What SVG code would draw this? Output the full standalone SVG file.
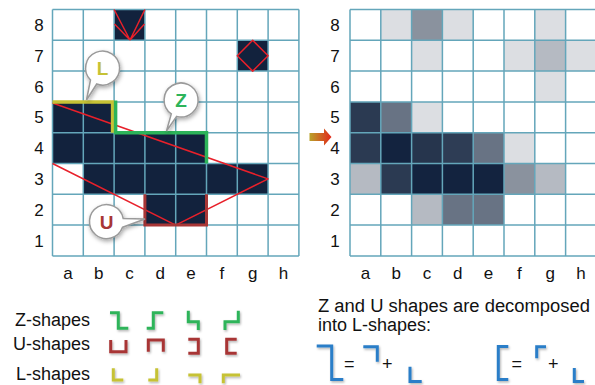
<svg xmlns="http://www.w3.org/2000/svg" width="595" height="385" viewBox="0 0 595 385">
<defs>
<filter id="sh" x="-30%" y="-30%" width="160%" height="160%"><feDropShadow dx="1" dy="1.5" stdDeviation="1.2" flood-color="#000" flood-opacity="0.3"/></filter>
<filter id="bsh" x="-40%" y="-40%" width="180%" height="180%"><feDropShadow dx="1" dy="2" stdDeviation="2" flood-color="#000" flood-opacity="0.35"/></filter>
<linearGradient id="arr" x1="0" y1="0" x2="1" y2="0"><stop offset="0" stop-color="#b9a22a"/><stop offset="1" stop-color="#e2281a"/></linearGradient>
<style>
.lbl{font-family:"Liberation Sans",Arial,sans-serif;font-size:17px;fill:#111;text-anchor:middle}
.txt{font-family:"Liberation Sans",Arial,sans-serif;font-size:18px;fill:#111}
.grid{fill:none;stroke:#64a6ba;stroke-width:1.5}
.dk{fill:#12223d}
.red{fill:none;stroke:#e8202a;stroke-width:1.5;stroke-linejoin:round}
.ic{fill:none;stroke-width:3;stroke-linejoin:miter;filter:url(#sh)}
.g{stroke:#2db45a}.u{stroke:#a83636}.y{stroke:#c6c235}.b{stroke:#2a7ec8}
.bub{fill:#fff;stroke:#9a9a9a;stroke-width:1.5;filter:url(#bsh)}
.bl{font-family:"Liberation Sans",Arial,sans-serif;font-size:19px;font-weight:bold;text-anchor:middle}
.op{font-family:"Liberation Sans",Arial,sans-serif;font-size:18px;fill:#111;text-anchor:middle}
</style>
</defs>
<rect width="595" height="385" fill="#fff"/>

<g id="left-grid">
<rect class="dk" x="114.1" y="9.5" width="30.8" height="30.8"/>
<rect class="dk" x="237.3" y="40.3" width="30.8" height="30.8"/>
<rect class="dk" x="52.5" y="101.9" width="61.6" height="30.8"/>
<rect class="dk" x="52.5" y="132.7" width="154" height="30.8"/>
<rect class="dk" x="83.3" y="163.5" width="184.8" height="30.8"/>
<rect class="dk" x="144.9" y="194.3" width="61.6" height="30.8"/>
<path class="grid" d="M52.5 9.5V255.9M83.3 9.5V255.9M114.1 9.5V255.9M144.9 9.5V255.9M175.7 9.5V255.9M206.5 9.5V255.9M237.3 9.5V255.9M268.1 9.5V255.9M298.9 9.5V255.9M52.5 9.5H298.9M52.5 40.3H298.9M52.5 71.1H298.9M52.5 101.9H298.9M52.5 132.7H298.9M52.5 163.5H298.9M52.5 194.3H298.9M52.5 225.1H298.9M52.5 255.9H298.9"/>
<g class="red">
<path d="M130 40L114.1 9.5M130 40L114.5 24M130 40L144.9 9.5M130 40L144.5 24"/>
<path d="M252.7 40.3L268.1 55.7L252.7 71.1L237.3 55.7Z"/>
<path d="M52.5 103L268.1 178.9L175.7 225.1L52.5 163.5"/>
</g>
<path d="M52.5 101.9H112.6V132.7" fill="none" stroke="#c6c235" stroke-width="3.5"/>
<path d="M115.6 100.5V132.7H206.5V163.5" fill="none" stroke="#2db45a" stroke-width="3.5"/>
<path d="M144.9 194.3V225.1H206.5V194.3" fill="none" stroke="#a83636" stroke-width="3"/>
<g class="lbl">
<text x="39" y="31">8</text><text x="39" y="62">7</text><text x="39" y="92.5">6</text><text x="39" y="123.3">5</text>
<text x="39" y="154">4</text><text x="39" y="185">3</text><text x="39" y="215.7">2</text><text x="39" y="246.5">1</text>
<text x="67.9" y="279">a</text><text x="98.7" y="279">b</text><text x="129.5" y="279">c</text><text x="160.3" y="279">d</text>
<text x="191.1" y="279">e</text><text x="221.9" y="279">f</text><text x="252.7" y="279">g</text><text x="283.5" y="279">h</text>
</g>
</g>

<g id="callout-L">
<path class="bub" d="M96.7 84L86.5 100L90.5 80A17 17 0 1 1 96.7 84Z"/>
<text class="bl" x="102.5" y="75" fill="#c6c235">L</text>
</g>
<g id="callout-Z">
<path class="bub" d="M176.6 116.4L166.5 131L171.3 113.9A17 17 0 1 1 176.6 116.4Z"/>
<text class="bl" x="181" y="107" fill="#2db45a">Z</text>
</g>
<g id="callout-U">
<path class="bub" d="M122.5 227.3L145 219L123.2 218.5A17 17 0 1 0 122.5 227.3Z"/>
<text class="bl" x="106.5" y="228.5" fill="#a83636">U</text>
</g>

<g id="connectors">
<path d="M309.5 133H324V128.5L331.5 137L324 145.5V141H309.5Z" fill="url(#arr)"/>
</g>

<g id="right-grid">
<g fill="#dcdee2">
<rect x="380.8" y="9.5" width="30.8" height="30.8"/><rect x="442.4" y="9.5" width="30.8" height="30.8"/><rect x="534.8" y="9.5" width="30.8" height="30.8"/>
<rect x="411.6" y="40.3" width="30.8" height="30.8"/><rect x="504" y="40.3" width="30.8" height="30.8"/><rect x="565.6" y="40.3" width="30.8" height="30.8"/>
<rect x="534.8" y="71.1" width="30.8" height="30.8"/>
<rect x="411.6" y="101.9" width="30.8" height="30.8"/>
<rect x="504" y="132.7" width="30.8" height="30.8"/>
</g>
<g fill="#8a929e">
<rect x="411.6" y="9.5" width="30.8" height="30.8"/>
<rect x="504" y="163.5" width="30.8" height="30.8"/>
</g>
<g fill="#b5bac2">
<rect x="534.8" y="40.3" width="30.8" height="30.8"/>
<rect x="350" y="163.5" width="30.8" height="30.8"/><rect x="534.8" y="163.5" width="30.8" height="30.8"/>
<rect x="411.6" y="194.3" width="30.8" height="30.8"/>
</g>
<g fill="#687384">
<rect x="380.8" y="101.9" width="30.8" height="30.8"/>
<rect x="473.2" y="132.7" width="30.8" height="30.8"/>
<rect x="442.4" y="194.3" width="61.6" height="30.8"/>
</g>
<g fill="#2b3a52">
<rect x="350" y="101.9" width="30.8" height="30.8"/>
<rect x="350" y="132.7" width="30.8" height="30.8"/>
<rect x="411.6" y="132.7" width="30.8" height="30.8" fill="#26354d"/>
<rect x="442.4" y="132.7" width="30.8" height="30.8" fill="#2e3d55"/>
<rect x="380.8" y="163.5" width="30.8" height="30.8"/>
</g>
<g fill="#13233f">
<rect x="380.8" y="132.7" width="30.8" height="30.8"/>
<rect x="411.6" y="163.5" width="92.4" height="30.8"/>
</g>
<path class="grid" d="M350 9.5V255.9M380.8 9.5V255.9M411.6 9.5V255.9M442.4 9.5V255.9M473.2 9.5V255.9M504 9.5V255.9M534.8 9.5V255.9M565.6 9.5V255.9M596.4 9.5V255.9M350 9.5H596.4M350 40.3H596.4M350 71.1H596.4M350 101.9H596.4M350 132.7H596.4M350 163.5H596.4M350 194.3H596.4M350 225.1H596.4M350 255.9H596.4"/>
<g class="lbl">
<text x="335" y="31">8</text><text x="335" y="62">7</text><text x="335" y="92.5">6</text><text x="335" y="123.3">5</text>
<text x="335" y="154">4</text><text x="335" y="185">3</text><text x="335" y="215.7">2</text><text x="335" y="246.5">1</text>
<text x="365.4" y="279">a</text><text x="396.2" y="279">b</text><text x="427" y="279">c</text><text x="457.8" y="279">d</text>
<text x="488.6" y="279">e</text><text x="519.4" y="279">f</text><text x="550.2" y="279">g</text><text x="581" y="279">h</text>
</g>
</g>

<g id="legend">
<g class="txt">
<text x="90" y="326" text-anchor="end">Z-shapes</text>
<text x="90" y="350" text-anchor="end">U-shapes</text>
<text x="90" y="380" text-anchor="end">L-shapes</text>
</g>
<g class="ic g">
<path d="M110 312.7H118.3V328.3H128.3"/>
<path d="M146.7 328.3H153.3V312.7H163.3"/>
<path d="M188.3 310.7V321.7H198.3V330"/>
<path d="M225 330V321.7H238.3V310.7"/>
</g>
<g class="ic u">
<path d="M110.7 340V351.7H126V340"/>
<path d="M148.3 351.7V340H163.3V351.7"/>
<path d="M188.3 339.3H198.3V353.3H188.3"/>
<path d="M236.7 339.3H226.7V353.3H236.7"/>
</g>
<g class="ic y">
<path d="M113.3 368.3V380H123.3"/>
<path d="M148.3 380H156.7V368.3"/>
<path d="M188.3 375H200V383.3"/>
<path d="M223.3 383.3V375H240"/>
</g>
</g>

<g id="decomposition">
<text class="txt" x="318" y="311.5" textLength="272" lengthAdjust="spacingAndGlyphs">Z and U shapes are decomposed</text>
<text class="txt" x="318" y="331">into L-shapes:</text>
<g class="ic b">
<path d="M316.7 346H331.7V379.5H343.3"/>
<path d="M363.3 346.7H377.3V361.7"/>
<path d="M410 366.7V381.5H421.7"/>
<path d="M508.3 346.5H498.3V379.5H508.3"/>
<path d="M536.7 358.3V346.7H546"/>
<path d="M574.3 368V381.5H584"/>
</g>
<g class="op">
<text x="349.3" y="369.5">=</text><text x="387.3" y="369.5">+</text>
<text x="516.7" y="369.5">=</text><text x="553.3" y="369.5">+</text>
</g>
</g>
</svg>
